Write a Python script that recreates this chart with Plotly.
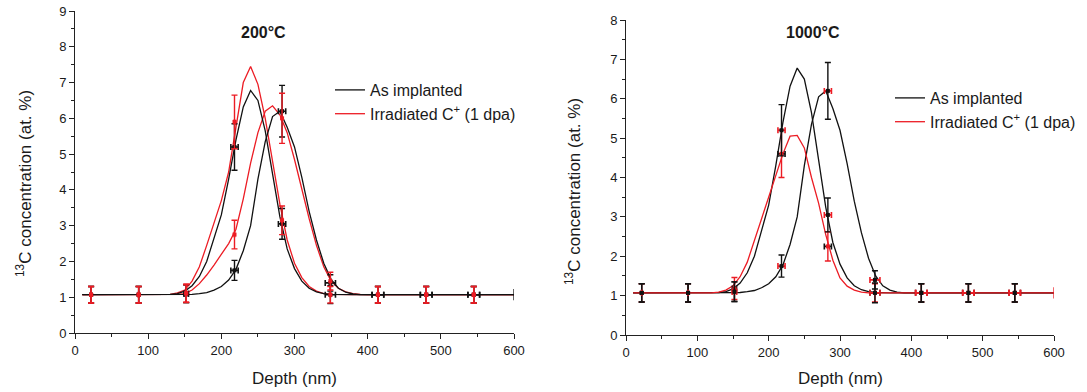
import plotly.graph_objects as go

# ---------------- data ----------------
FIT_DEPTH = [10, 120, 130, 140, 150, 160, 170, 180, 190, 200, 210, 220, 230, 240, 250,
             260, 270, 280, 290, 300, 310, 320, 330, 340, 350, 360, 370, 380, 390, 400, 600]

# As implanted: two fitted profiles (same in both panels)
IMPL_FIT_1 = [1.07, 1.07, 1.08, 1.10, 1.17, 1.32, 1.58, 2.00, 2.62, 3.30, 4.30, 5.40, 6.32, 6.78, 6.50,
              5.65, 4.45, 3.25, 2.35, 1.80, 1.45, 1.25, 1.15, 1.10, 1.08, 1.07, 1.07, 1.07, 1.07, 1.07, 1.07]
IMPL_FIT_2 = [1.07, 1.07, 1.07, 1.07, 1.07, 1.08, 1.10, 1.13, 1.20, 1.30, 1.48, 1.78, 2.30, 3.00, 4.30,
              5.35, 6.05, 6.20, 5.75, 5.20, 4.35, 3.40, 2.60, 1.95, 1.50, 1.25, 1.14, 1.09, 1.07, 1.07, 1.07]

# Irradiated C+ (1 dpa), 200 °C: two fitted profiles
IRR200_FIT_1 = [1.07, 1.07, 1.08, 1.12, 1.20, 1.45, 1.85, 2.45, 3.05, 3.70, 4.50, 5.75, 7.00, 7.45, 6.95,
                6.00, 4.80, 3.60, 2.60, 1.95, 1.55, 1.30, 1.17, 1.10, 1.08, 1.07, 1.07, 1.07, 1.07, 1.07, 1.07]
IRR200_FIT_2 = [1.07, 1.07, 1.07, 1.08, 1.10, 1.20, 1.38, 1.62, 1.90, 2.20, 2.50, 2.90, 3.75, 4.75, 5.60,
                6.20, 6.35, 6.10, 5.60, 4.85, 4.00, 3.20, 2.45, 1.85, 1.45, 1.25, 1.15, 1.10, 1.08, 1.07, 1.07]

# Irradiated C+ (1 dpa), 1000 °C: one fitted profile
IRR1000_FIT = [1.07, 1.07, 1.09, 1.14, 1.25, 1.48, 1.85, 2.40, 2.95, 3.50, 4.05, 4.60, 5.05, 5.07, 4.75,
               4.00, 3.35, 2.55, 1.90, 1.45, 1.24, 1.14, 1.09, 1.07, 1.07, 1.07, 1.07, 1.07, 1.07, 1.07, 1.07]

# Measured points
POINT_DEPTH = [22, 87, 152, 218, 283, 349, 414, 480, 545]
DEPTH_ERR = [0, 0, 3, 5, 5, 7, 8, 8, 8]
NO_DEPTH_ERR = [0, 0, 0, 0, 0, 0, 0, 0, 0]

IMPL_PTS_1 = [1.07, 1.07, 1.10, 5.20, 3.05, 1.07, 1.07, 1.07, 1.07]
IMPL_ERR_1 = [0.23, 0.23, 0.25, 0.65, 0.43, 0.25, 0.23, 0.23, 0.23]
IMPL_PTS_2 = [1.07, 1.07, 1.10, 1.75, 6.20, 1.40, 1.07, 1.07, 1.07]
IMPL_ERR_2 = [0.23, 0.23, 0.25, 0.28, 0.72, 0.23, 0.23, 0.23, 0.23]

IRR200_PTS_1 = [1.07, 1.07, 1.10, 5.90, 3.15, 1.07, 1.07, 1.07, 1.07]
IRR200_ERR_1 = [0.23, 0.23, 0.25, 0.75, 0.40, 0.23, 0.23, 0.23, 0.23]
IRR200_PTS_2 = [1.07, 1.07, 1.12, 2.75, 6.00, 1.45, 1.07, 1.07, 1.07]
IRR200_ERR_2 = [0.23, 0.23, 0.25, 0.40, 0.70, 0.25, 0.23, 0.23, 0.23]

IRR1000_PTS = [1.07, 1.07, 1.18, 4.60, 2.25, 1.07, 1.07, 1.07, 1.07]
IRR1000_ERR = [0.23, 0.23, 0.28, 0.60, 0.37, 0.23, 0.23, 0.23, 0.23]

END_DEPTH = [600]
END_LEVEL = [1.07]

PANEL_TITLES = ["200°C", "1000°C"]
SERIES_NAMES = ["As implanted", "Irradiated C<sup>+</sup> (1 dpa)"]
X_TITLE = "Depth (nm)"
Y_TITLE = "<sup>13</sup>C concentration (at. %)"

# ---------------- style ----------------
BLACK = "#111111"
RED = "#ec1c24"
FONT = "Liberation Sans, Arial, sans-serif"
TXT = "#1a1a1a"
W, H = 1087, 392

fig = go.Figure()


def add_curve(y, color, xa, ya, name=None, legend="legend", show=False, rank=1):
    fig.add_trace(go.Scatter(
        x=FIT_DEPTH, y=y, mode="lines", line=dict(color=color, width=1.3),
        name=name, showlegend=show, legend=legend, legendrank=rank,
        xaxis=xa, yaxis=ya, hoverinfo="skip"))


def add_points(y, err, color, hcolor, xerr, xa, ya):
    fig.add_trace(go.Scatter(
        x=POINT_DEPTH, y=y, mode="markers",
        marker=dict(symbol="square", size=4, color=color),
        error_y=dict(type="data", array=err, visible=True, color=color, thickness=1.4, width=3),
        error_x=dict(type="data", array=xerr, visible=True, color=hcolor, thickness=1.6, width=3),
        showlegend=False, xaxis=xa, yaxis=ya, hoverinfo="skip"))


def add_end(color, xa, ya):
    fig.add_trace(go.Scatter(
        x=END_DEPTH, y=END_LEVEL, mode="markers",
        marker=dict(symbol="line-ns", size=8, line=dict(color=color, width=1.3)),
        showlegend=False, xaxis=xa, yaxis=ya, hoverinfo="skip"))


# Left panel (200 °C)
add_curve(IRR200_FIT_1, RED, "x", "y", SERIES_NAMES[1], "legend", True, 2)
add_curve(IRR200_FIT_2, RED, "x", "y")
add_curve(IMPL_FIT_1, BLACK, "x", "y", SERIES_NAMES[0], "legend", True, 1)
add_curve(IMPL_FIT_2, BLACK, "x", "y")
add_points(IMPL_PTS_1, IMPL_ERR_1, BLACK, BLACK, DEPTH_ERR, "x", "y")
add_points(IMPL_PTS_2, IMPL_ERR_2, BLACK, BLACK, DEPTH_ERR, "x", "y")
add_points(IRR200_PTS_1, IRR200_ERR_1, RED, RED, NO_DEPTH_ERR, "x", "y")
add_points(IRR200_PTS_2, IRR200_ERR_2, RED, RED, NO_DEPTH_ERR, "x", "y")
add_end(BLACK, "x", "y")

# Right panel (1000 °C)
add_curve(IMPL_FIT_1, BLACK, "x2", "y2", SERIES_NAMES[0], "legend2", True, 1)
add_curve(IMPL_FIT_2, BLACK, "x2", "y2")
add_curve(IRR1000_FIT, RED, "x2", "y2", SERIES_NAMES[1], "legend2", True, 2)
add_points(IRR1000_PTS, IRR1000_ERR, RED, BLACK, DEPTH_ERR, "x2", "y2")
add_points(IMPL_PTS_1, IMPL_ERR_1, BLACK, RED, DEPTH_ERR, "x2", "y2")
add_points(IMPL_PTS_2, IMPL_ERR_2, BLACK, RED, DEPTH_ERR, "x2", "y2")
add_end(RED, "x2", "y2")

# ---------------- axes ----------------
def px_x(p):
    return p / W


def px_y(p):
    return 1 - p / H


axis_common = dict(
    showline=True, linecolor="#222222", linewidth=1, mirror=False,
    ticks="outside", ticklen=5, tickwidth=1, tickcolor="#222222",
    showgrid=False, zeroline=False, automargin=False,
    tickfont=dict(family=FONT, size=13, color=TXT),
)

L_DOM_X = [px_x(75), px_x(514)]
R_DOM_X = [px_x(626), px_x(1054)]
L_DOM_Y = [px_y(333), px_y(11)]
R_DOM_Y = [px_y(335), px_y(20)]

fig.update_layout(
    xaxis=dict(domain=L_DOM_X, range=[0, 600], dtick=100, anchor="y",
               minor=dict(dtick=50, ticks="outside", ticklen=3, tickcolor="#222222"), **axis_common),
    yaxis=dict(domain=L_DOM_Y, range=[0, 9], dtick=1, anchor="x",
               minor=dict(dtick=0.5, ticks="outside", ticklen=3, tickcolor="#222222"), **axis_common),
    xaxis2=dict(domain=R_DOM_X, range=[0, 600], dtick=100, anchor="y2",
                minor=dict(dtick=50, ticks="outside", ticklen=3, tickcolor="#222222"), **axis_common),
    yaxis2=dict(domain=R_DOM_Y, range=[0, 8], dtick=1, anchor="x2",
                minor=dict(dtick=0.5, ticks="outside", ticklen=3, tickcolor="#222222"), **axis_common),
)

legend_common = dict(
    font=dict(family=FONT, size=16, color=TXT), bgcolor="rgba(0,0,0,0)",
    borderwidth=0, tracegroupgap=0, xanchor="left", yanchor="top",
    traceorder="normal",
)
fig.update_layout(
    legend=dict(x=px_x(330), y=px_y(73), **legend_common),
    legend2=dict(x=px_x(890), y=px_y(81), **legend_common),
)

title_font = dict(family=FONT, size=16, color=TXT)
axis_title_font = dict(family=FONT, size=17, color=TXT)
annotations = [
    dict(text="<b>%s</b>" % PANEL_TITLES[0], xref="x", yref="paper", x=258, y=px_y(33),
         xanchor="center", yanchor="middle", showarrow=False, font=title_font),
    dict(text="<b>%s</b>" % PANEL_TITLES[1], xref="x2", yref="paper", x=262, y=px_y(33),
         xanchor="center", yanchor="middle", showarrow=False, font=title_font),
    dict(text=X_TITLE, xref="paper", yref="paper", x=(L_DOM_X[0] + L_DOM_X[1]) / 2, y=px_y(378),
         xanchor="center", yanchor="middle", showarrow=False, font=axis_title_font),
    dict(text=X_TITLE, xref="paper", yref="paper", x=(R_DOM_X[0] + R_DOM_X[1]) / 2, y=px_y(378),
         xanchor="center", yanchor="middle", showarrow=False, font=axis_title_font),
    dict(text=Y_TITLE, xref="paper", yref="paper", x=px_x(24), y=px_y(184), textangle=-90,
         xanchor="center", yanchor="middle", showarrow=False, font=axis_title_font),
    dict(text=Y_TITLE, xref="paper", yref="paper", x=px_x(573), y=px_y(192), textangle=-90,
         xanchor="center", yanchor="middle", showarrow=False, font=axis_title_font),
]

fig.update_layout(
    width=W, height=H, margin=dict(l=0, r=0, t=0, b=0),
    paper_bgcolor="white", plot_bgcolor="white",
    annotations=annotations, font=dict(family=FONT, color=TXT),
)

fig.write_html("out.html", config={"displayModeBar": False})
